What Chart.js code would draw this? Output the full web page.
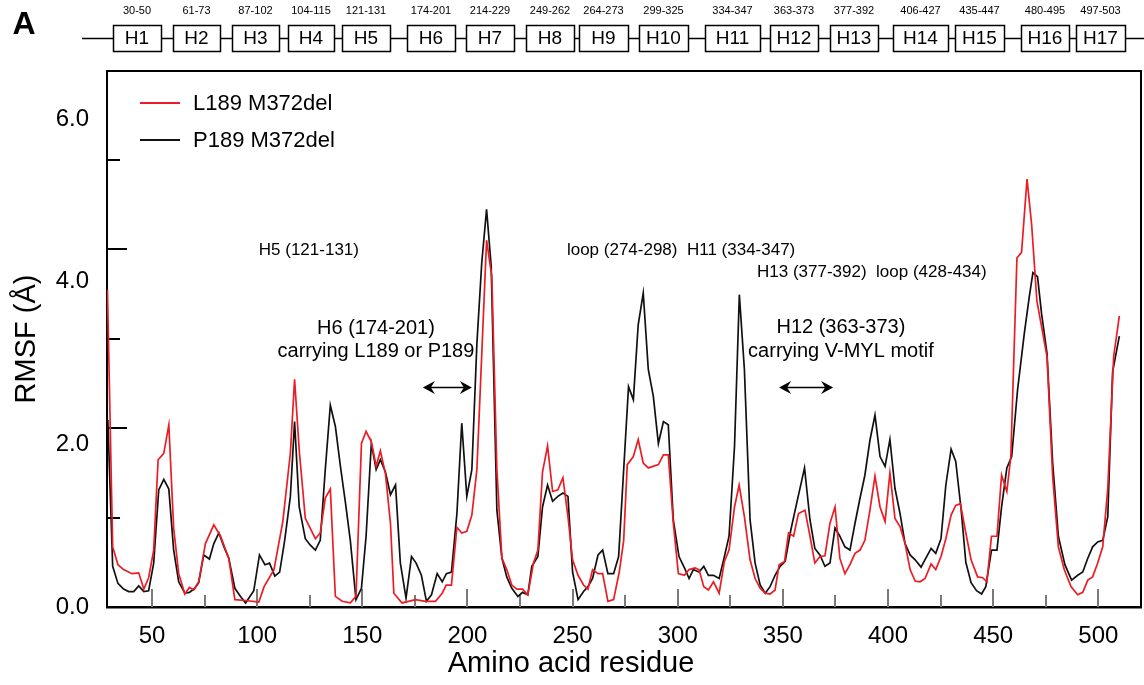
<!DOCTYPE html>
<html>
<head>
<meta charset="utf-8">
<script src="https://cdn.jsdelivr.net/npm/chart.js@4.4.1/dist/chart.umd.min.js"></script>
<style>
  html, body { margin: 0; padding: 0; background: #fff; }
  #wrap { width: 1144px; height: 685px; position: relative; }
</style>
</head>
<body>
<div id="wrap"><canvas id="rmsfChart" width="1144" height="685"></canvas></div>
<script>

const FONT = "'Liberation Sans', Arial, Helvetica, sans-serif";

// ---- data: RMSF per residue ----

const residuesL189 = [28.8, 31.3, 33.8, 36.5, 40.5, 43.7, 46.1, 48.4, 50.8, 52.9, 55.6, 58.0, 60.3, 62.7, 65.6, 67.8, 69.9, 72.2, 75.4, 79.4,
    82.6, 86.5, 89.4, 94.5, 100.8, 103.3, 108.0, 112.2, 115.8, 117.8, 120.0, 122.9, 127.7, 130.0, 132.4, 134.8, 137.2, 140.4, 144.3, 147.0,
    149.6, 151.8, 154.3, 156.6, 158.6, 161.0, 163.4, 165.0, 168.9, 175.3, 180.0, 184.8, 188.0, 189.9, 192.4, 195.0, 197.3, 199.7, 202.1, 204.5,
    206.5, 209.1, 211.6, 214.0, 216.4, 218.7, 221.1, 223.5, 226.2, 228.7, 231.4, 233.5, 235.7, 238.1, 240.5, 243.0, 245.4, 247.8, 250.0, 252.6,
    255.2, 257.3, 259.5, 262.1, 264.3, 266.8, 269.5, 272.2, 274.3, 276.0, 278.9, 281.2, 283.6, 286.0, 290.8, 293.2, 295.5, 297.9, 300.3, 303.2,
    305.4, 308.2, 310.1, 312.4, 314.6, 317.0, 319.7, 322.2, 324.4, 327.0, 329.2, 331.7, 334.4, 336.8, 339.2, 341.6, 343.9, 346.3, 348.2, 350.8,
    352.7, 355.1, 357.4, 360.5, 362.9, 365.2, 367.6, 370.0, 372.4, 374.8, 377.1, 379.5, 381.9, 384.3, 386.7, 389.0, 391.4, 393.8, 396.2, 398.6,
    400.9, 403.3, 405.7, 408.1, 410.5, 412.9, 415.2, 417.6, 420.5, 422.7, 425.2, 427.5, 430.0, 432.2, 434.4, 437.0, 439.5, 442.6, 445.0, 447.0,
    449.2, 451.8, 454.0, 456.5, 458.4, 461.3, 463.5, 466.1, 468.3, 470.8, 473.0, 475.6, 478.3, 481.0, 483.8, 487.0, 490.2, 492.6, 495.0, 497.3,
    499.7, 502.1, 504.5, 507.3, 510.0];

const rmsfL189 = [3.90, 0.74, 0.52, 0.46, 0.41, 0.42, 0.22, 0.36, 0.70, 1.81, 1.89, 2.24, 0.97, 0.41, 0.16, 0.24, 0.21, 0.31, 0.78, 1.01,
    0.87, 0.60, 0.09, 0.08, 0.06, 0.25, 0.46, 1.05, 1.89, 2.80, 1.93, 1.09, 0.84, 0.91, 1.34, 1.45, 0.13, 0.07, 0.05, 0.13,
    2.01, 2.16, 2.03, 1.73, 1.92, 1.64, 1.03, 0.17, 0.05, 0.09, 0.07, 0.07, 0.17, 0.27, 0.27, 0.98, 0.91, 0.93, 1.13, 1.69,
    2.92, 4.51, 4.06, 1.69, 0.60, 0.46, 0.27, 0.22, 0.22, 0.15, 0.54, 0.70, 1.66, 1.98, 1.42, 1.44, 1.59, 1.11, 0.58, 0.39,
    0.27, 0.22, 0.46, 0.41, 0.41, 0.07, 0.09, 0.43, 0.82, 1.75, 1.85, 2.06, 1.77, 1.71, 1.75, 1.87, 1.87, 1.03, 0.41, 0.39,
    0.46, 0.48, 0.46, 0.25, 0.21, 0.31, 0.17, 0.56, 0.70, 1.23, 1.50, 1.11, 0.58, 0.35, 0.23, 0.17, 0.16, 0.21, 0.52, 0.56,
    0.91, 0.87, 1.15, 1.19, 0.87, 0.54, 0.62, 0.63, 1.03, 1.23, 0.60, 0.41, 0.52, 0.66, 0.70, 0.82, 1.19, 1.61, 1.23, 1.05,
    1.65, 1.09, 0.99, 0.78, 0.46, 0.32, 0.31, 0.35, 0.53, 0.46, 0.62, 0.84, 1.13, 1.25, 1.27, 0.91, 0.58, 0.37, 0.36, 0.31,
    0.87, 0.87, 1.62, 1.42, 1.85, 4.29, 4.36, 5.26, 4.70, 3.76, 3.45, 3.08, 1.60, 0.74, 0.46, 0.25, 0.15, 0.18, 0.33, 0.37,
    0.54, 0.74, 1.46, 3.08, 3.58];

const residuesP189 = [29.0, 31.3, 33.8, 36.5, 38.9, 41.3, 43.7, 46.1, 48.4, 50.8, 53.2, 55.6, 58.0, 60.3, 62.7, 65.6, 67.8, 70.3, 72.2, 74.6,
    77.3, 79.4, 81.8, 84.2, 86.5, 89.4, 92.1, 94.5, 98.4, 101.1, 103.7, 105.9, 108.4, 110.7, 113.1, 115.8, 117.8, 120.0, 122.9, 125.3,
    127.7, 130.0, 132.4, 134.8, 137.2, 139.6, 142.0, 144.3, 147.0, 149.6, 151.8, 154.3, 156.6, 158.6, 161.0, 163.4, 165.8, 168.1, 170.8, 173.4,
    175.6, 178.1, 180.5, 182.9, 185.6, 188.0, 190.0, 192.4, 195.0, 197.3, 199.7, 202.1, 204.5, 206.8, 209.1, 211.3, 214.0, 216.4, 218.7, 221.1,
    224.0, 226.2, 228.7, 230.6, 233.5, 235.7, 238.1, 240.5, 243.0, 245.4, 247.8, 250.0, 252.6, 255.2, 257.3, 259.5, 262.1, 264.3, 266.8, 269.5,
    271.9, 274.3, 276.6, 278.9, 281.2, 283.6, 286.0, 288.4, 290.8, 293.2, 295.5, 297.9, 300.6, 303.2, 305.4, 307.4, 310.1, 312.4, 314.6, 317.0,
    319.7, 322.2, 324.4, 327.0, 329.3, 331.7, 334.4, 336.8, 339.2, 341.6, 343.9, 346.3, 348.7, 351.1, 353.8, 356.6, 360.3, 362.9, 365.2, 367.6,
    370.0, 372.4, 374.8, 377.1, 379.5, 381.9, 384.3, 386.7, 389.0, 391.4, 393.8, 396.2, 398.6, 400.9, 403.3, 405.7, 408.1, 410.5, 412.9, 415.7,
    418.0, 420.5, 422.7, 425.2, 427.5, 430.0, 432.2, 434.8, 437.0, 439.5, 442.1, 444.5, 446.5, 449.2, 451.8, 454.0, 456.5, 458.8, 461.6, 464.8,
    467.2, 468.9, 471.1, 473.0, 475.6, 478.3, 481.0, 484.1, 487.3, 490.2, 492.6, 495.0, 497.3, 499.7, 502.1, 504.5, 506.8, 510.0];

const rmsfP189 = [2.30, 0.50, 0.29, 0.22, 0.19, 0.19, 0.26, 0.19, 0.20, 0.54, 1.44, 1.57, 1.45, 0.70, 0.31, 0.17, 0.18, 0.23, 0.30, 0.64,
    0.59, 0.78, 0.91, 0.74, 0.60, 0.23, 0.13, 0.05, 0.20, 0.64, 0.52, 0.54, 0.38, 0.43, 0.82, 1.36, 2.28, 1.23, 0.84, 0.76,
    0.70, 0.82, 1.69, 2.48, 2.22, 1.73, 1.28, 0.82, 0.09, 0.23, 0.87, 2.01, 1.69, 1.81, 1.66, 1.38, 1.50, 0.54, 0.11, 0.62,
    0.54, 0.39, 0.07, 0.15, 0.41, 0.31, 0.41, 0.43, 1.15, 2.26, 1.36, 1.69, 3.24, 4.23, 4.89, 4.19, 1.19, 0.60, 0.37, 0.23,
    0.13, 0.18, 0.15, 0.50, 0.62, 1.23, 1.50, 1.30, 1.36, 1.40, 1.36, 0.43, 0.09, 0.19, 0.25, 0.35, 0.64, 0.70, 0.41, 0.41,
    0.62, 1.69, 2.71, 2.55, 3.47, 3.86, 2.92, 2.59, 2.01, 2.28, 2.24, 1.07, 0.62, 0.48, 0.35, 0.46, 0.43, 0.50, 0.39, 0.39,
    0.35, 0.62, 0.87, 1.97, 3.84, 2.92, 1.07, 0.54, 0.27, 0.17, 0.25, 0.39, 0.50, 0.56, 0.95, 1.28, 1.71, 1.07, 0.72, 0.64,
    0.50, 0.54, 0.97, 0.87, 0.74, 0.70, 1.03, 1.34, 1.62, 2.05, 2.36, 1.85, 1.73, 2.06, 1.46, 1.15, 0.78, 0.64, 0.58, 0.49,
    0.60, 0.72, 0.66, 0.84, 1.50, 1.94, 1.79, 1.19, 0.55, 0.30, 0.20, 0.16, 0.25, 0.70, 0.70, 1.23, 1.71, 1.85, 2.67, 3.36,
    3.82, 4.11, 4.06, 3.61, 3.12, 1.77, 0.87, 0.52, 0.33, 0.39, 0.43, 0.60, 0.74, 0.80, 0.82, 1.11, 2.89, 3.33];

const seriesNames = ['L189 M372del', 'P189 M372del'];
const seriesColors = ['#ec1c24', '#111111'];

const yTickValues = [0, 2, 4, 6];
const xTickStep = 50;

// helix map above the plot (schematic, not on the residue axis)
const helixNames = ['H1', 'H2', 'H3', 'H4', 'H5', 'H6', 'H7', 'H8', 'H9', 'H10', 'H11', 'H12', 'H13', 'H14', 'H15', 'H16', 'H17'];
const helixRanges = ['30-50', '61-73', '87-102', '104-115', '121-131', '174-201', '214-229', '249-262', '264-273',
    '299-325', '334-347', '363-373', '377-392', '406-427', '435-447', '480-495', '497-503'];
const helixBoxLeft = [113, 173, 232, 288, 342, 407, 466, 526, 579, 639, 705, 770, 830, 893, 955, 1021, 1076];
const helixBoxRight = [161, 220, 279, 334, 390, 455, 514, 574, 628, 688, 760, 818, 878, 948, 1004, 1069, 1125];

// text notes inside the plot, placed in data units (residue, RMSF)
const notes = [
    { text: 'H5 (121-131)', x: 124.6, y: 4.39, size: 17, align: 'center' },
    { text: 'loop (274-298)  H11 (334-347)', x: 247.3, y: 4.39, size: 17, align: 'left' },
    { text: 'H13 (377-392)  loop (428-434)', x: 337.7, y: 4.11, size: 17, align: 'left' },
    { text: 'H6 (174-201)', x: 156.5, y: 3.42, size: 20, align: 'center' },
    { text: 'carrying L189 or P189', x: 156.5, y: 3.14, size: 20, align: 'center' },
    { text: 'H12 (363-373)', x: 377.6, y: 3.44, size: 20, align: 'center' },
    { text: 'carrying V-MYL motif', x: 377.6, y: 3.14, size: 20, align: 'center' },
];
const arrows = [
    { from: 178.8, to: 202.1, y: 2.71 },
    { from: 348.2, to: 373.9, y: 2.71 },
];

function toPoints( xs, ys ) {
    return xs.map( function( x, i ) { return { x: x, y: ys[ i ] }; } );
}

// ---- plugins ----

const helixBarPlugin = {
    id: 'helixBar',
    afterDraw( chart ) {
        const ctx = chart.ctx;
        ctx.save();
        ctx.fillStyle = '#000';
        ctx.textAlign = 'center';
        ctx.textBaseline = 'middle';
        ctx.font = 'bold 32px ' + FONT;
        ctx.fillText( 'A', 24, 25 );

        ctx.strokeStyle = '#000';
        ctx.lineWidth = 1.5;
        ctx.beginPath();
        ctx.moveTo( 82, 38.5 );
        ctx.lineTo( 1144, 38.5 );
        ctx.stroke();

        helixNames.forEach( function( name, i ) {
            const l = helixBoxLeft[ i ], r = helixBoxRight[ i ];
            ctx.fillStyle = '#fff';
            ctx.fillRect( l, 25, r - l, 27 );
            ctx.strokeRect( l + 0.5, 25.5, r - l, 26 );
            ctx.fillStyle = '#000';
            ctx.font = '19px ' + FONT;
            ctx.fillText( name, ( l + r ) / 2, 39 );
            ctx.font = '11px ' + FONT;
            ctx.fillText( helixRanges[ i ], ( l + r ) / 2, 11 );
        } );
        ctx.restore();
    }
};

const axisMarksPlugin = {
    id: 'axisMarks',
    beforeDatasetsDraw( chart ) {
        const { ctx, chartArea: a, scales: { x, y } } = chart;
        ctx.save();
        ctx.lineWidth = 2;
        ctx.strokeStyle = '#7a7a7a';
        for ( let r = 50; r <= 500; r += 25 ) {
            const px = Math.round( x.getPixelForValue( r ) );
            const len = r % 50 === 0 ? 18 : 12;
            ctx.beginPath();
            ctx.moveTo( px, a.bottom );
            ctx.lineTo( px, a.bottom - len );
            ctx.stroke();
        }
        ctx.strokeStyle = '#000';
        for ( let k = 1; k <= 5; k++ ) {
            const py = Math.round( y.getPixelForValue( k * 1.1 ) );
            const len = k % 2 === 0 ? 20 : 13;
            ctx.beginPath();
            ctx.moveTo( a.left, py );
            ctx.lineTo( a.left + len, py );
            ctx.stroke();
        }
        ctx.restore();
    },
    afterDraw( chart ) {
        const { ctx, chartArea: a } = chart;
        ctx.save();
        ctx.strokeStyle = '#000';
        ctx.lineWidth = 2;
        ctx.beginPath();
        ctx.moveTo( a.left, a.top );
        ctx.lineTo( a.right, a.top );
        ctx.lineTo( a.right, a.bottom );
        ctx.stroke();

        // x axis title
        ctx.fillStyle = '#000';
        ctx.font = '29px ' + FONT;
        ctx.textAlign = 'center';
        ctx.textBaseline = 'middle';
        ctx.fillText( 'Amino acid residue', 571, 664 );
        ctx.restore();
    }
};

const insideLegendPlugin = {
    id: 'insideLegend',
    afterDraw( chart ) {
        const ctx = chart.ctx;
        ctx.save();
        ctx.font = '22px ' + FONT;
        ctx.textAlign = 'left';
        ctx.textBaseline = 'middle';
        chart.data.datasets.forEach( function( ds, i ) {
            const yy = 103 + i * 37;
            ctx.strokeStyle = ds.borderColor;
            ctx.lineWidth = 2;
            ctx.beginPath();
            ctx.moveTo( 140, yy );
            ctx.lineTo( 180, yy );
            ctx.stroke();
            ctx.fillStyle = '#000';
            ctx.fillText( ds.label, 193, yy + 1 );
        } );
        ctx.restore();
    }
};

function drawArrowHead( ctx, tipX, y, dir ) {
    // dir = -1 points left, +1 points right
    ctx.beginPath();
    ctx.moveTo( tipX, y );
    ctx.lineTo( tipX - dir * 12, y - 6.5 );
    ctx.lineTo( tipX - dir * 8, y );
    ctx.lineTo( tipX - dir * 12, y + 6.5 );
    ctx.closePath();
    ctx.fill();
}

const notesPlugin = {
    id: 'notes',
    afterDraw( chart ) {
        const { ctx, scales: { x, y } } = chart;
        ctx.save();
        ctx.fillStyle = '#000';
        ctx.textBaseline = 'middle';
        notes.forEach( function( n ) {
            ctx.font = n.size + 'px ' + FONT;
            ctx.textAlign = n.align;
            ctx.fillText( n.text, x.getPixelForValue( n.x ), y.getPixelForValue( n.y ) );
        } );
        ctx.strokeStyle = '#000';
        ctx.lineWidth = 1.6;
        arrows.forEach( function( ar ) {
            const x1 = x.getPixelForValue( ar.from ), x2 = x.getPixelForValue( ar.to );
            const py = Math.round( y.getPixelForValue( ar.y ) ) + 0.5;
            ctx.beginPath();
            ctx.moveTo( x1 + 6, py );
            ctx.lineTo( x2 - 6, py );
            ctx.stroke();
            drawArrowHead( ctx, x1, py, -1 );
            drawArrowHead( ctx, x2, py, 1 );
        } );
        ctx.restore();
    }
};

// ---- chart ----

Chart.defaults.font.family = FONT;
Chart.defaults.color = '#000';

const ctx = document.getElementById( 'rmsfChart' ).getContext( '2d' );
const rmsfChart = new Chart( ctx, {
    type: 'line',
    data: {
        datasets: [
            {
                label: seriesNames[ 0 ],
                data: toPoints( residuesL189, rmsfL189 ),
                borderColor: seriesColors[ 0 ],
                borderWidth: 1.7,
                pointRadius: 0,
                tension: 0,
            },
            {
                label: seriesNames[ 1 ],
                data: toPoints( residuesP189, rmsfP189 ),
                borderColor: seriesColors[ 1 ],
                borderWidth: 1.7,
                pointRadius: 0,
                tension: 0,
            },
        ],
    },
    options: {
        responsive: false,
        animation: false,
        devicePixelRatio: 1,
        layout: { padding: { top: 71, right: 3, bottom: 0, left: 0 } },
        plugins: {
            legend: { display: false },
            tooltip: { enabled: false },
        },
        scales: {
            x: {
                type: 'linear',
                min: 28.6,
                max: 520.3,
                grid: { display: false, drawTicks: false },
                border: { display: true, color: '#000', width: 2.5 },
                ticks: {
                    stepSize: xTickStep,
                    includeBounds: false,
                    maxRotation: 0,
                    padding: 15,
                    color: '#000',
                    font: { size: 24 },
                },
                afterFit: function( scale ) { scale.height = 78; },
            },
            y: {
                type: 'linear',
                min: 0,
                max: 6.59,
                grid: { display: false, drawTicks: false },
                border: { display: true, color: '#000', width: 2 },
                afterBuildTicks: function( scale ) {
                    scale.ticks = yTickValues.map( function( v ) { return { value: v }; } );
                },
                ticks: {
                    padding: 18,
                    color: '#000',
                    font: { size: 24 },
                    callback: function( v ) { return Number( v ).toFixed( 1 ); },
                },
                title: {
                    display: true,
                    text: 'RMSF (Å)',
                    color: '#000',
                    font: { size: 29 },
                    padding: { top: 10, bottom: 0 },
                },
                afterFit: function( scale ) { scale.width = 107; },
            },
        },
    },
    plugins: [ axisMarksPlugin, helixBarPlugin, insideLegendPlugin, notesPlugin ],
} );

</script>
</body>
</html>
